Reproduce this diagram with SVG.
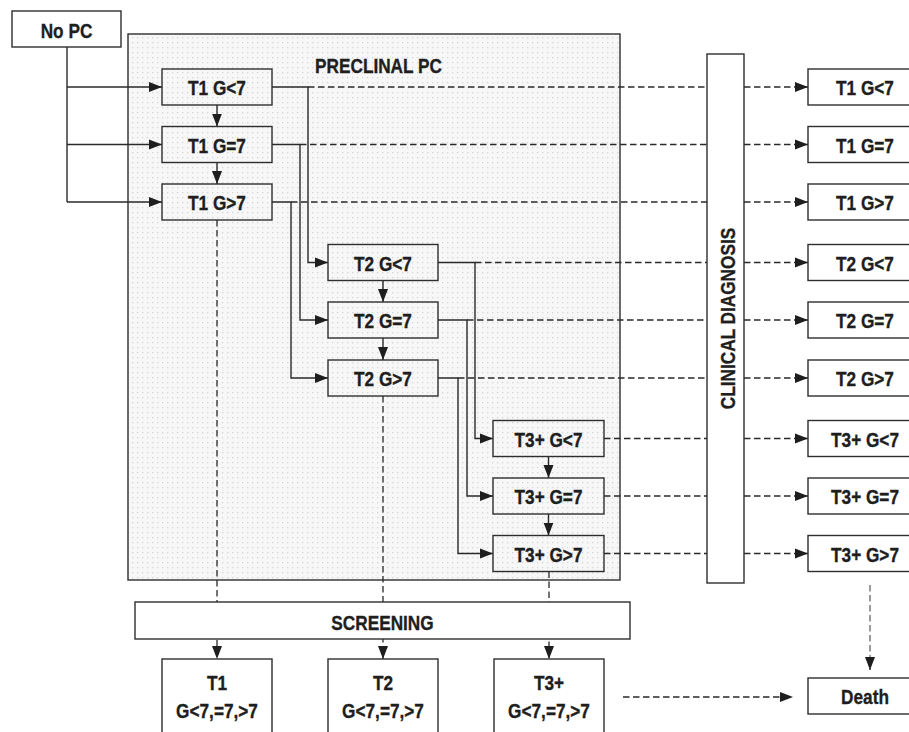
<svg xmlns="http://www.w3.org/2000/svg" width="909" height="732" viewBox="0 0 909 732">
<style>
text{font-family:"Liberation Sans",Arial,sans-serif;font-weight:bold;font-size:21px;fill:#1e1e1e;stroke:#1e1e1e;stroke-width:0.35;text-anchor:middle}
.box{fill:#fff;stroke:#2e2e2e;stroke-width:1.4}
.sbox{fill:none;stroke:#2e2e2e;stroke-width:1.4}
.ln{fill:none;stroke:#2a2a2a;stroke-width:1.4}
.ar{marker-end:url(#ah)}
.dash{fill:none;stroke:#2a2a2a;stroke-width:1.3;stroke-dasharray:6.5 3.5}
.gdash{fill:none;stroke:#666;stroke-width:1.3;stroke-dasharray:6.5 3.5}
</style>
<defs>
<pattern id="dots" width="5" height="5" patternUnits="userSpaceOnUse">
<rect width="5" height="5" fill="#f7f7f7"/>
<rect x="2" y="2" width="1.3" height="1.3" fill="#d6d6d6"/>
</pattern>
<marker id="ah" markerWidth="13" markerHeight="11" refX="13" refY="5.5" orient="auto" markerUnits="userSpaceOnUse">
<path d="M0,0.5 L13,5.5 L0,10.5 z" fill="#1e1e1e"/>
</marker>
</defs>

<g id="preclinical">
<rect x="128" y="34" width="492" height="546" fill="url(#dots)" stroke="#2e2e2e" stroke-width="1.4"/>
<text transform="translate(378.5,72.5) scale(0.82,1)">PRECLINAL PC</text>
</g>

<g id="connectors">
<path class="ln" d="M67,47 V202"/>
<path class="ln ar" d="M67,87 H162"/>
<path class="ln ar" d="M67,144.5 H162"/>
<path class="ln ar" d="M67,202 H162"/>
<path class="ln ar" d="M217,105 V126.5"/>
<path class="ln ar" d="M217,162.5 V184"/>
<path class="ln ar" d="M383,280.5 V302"/>
<path class="ln ar" d="M383,338 V360"/>
<path class="ln ar" d="M548.5,456.5 V478"/>
<path class="ln ar" d="M548.5,514 V535.5"/>
<path class="ln ar" d="M272,87 H308 V262.5 H328"/>
<path class="ln ar" d="M272,144.5 H300 V320 H328"/>
<path class="ln ar" d="M272,202 H291 V378 H328"/>
<path class="ln ar" d="M438,262.5 H475 V438.5 H493"/>
<path class="ln ar" d="M438,320 H467 V496 H493"/>
<path class="ln ar" d="M438,378 H458 V553.5 H493"/>
<path class="dash" d="M308,87 H707"/>
<path class="dash" d="M300,144.5 H707"/>
<path class="dash" d="M291,202 H707"/>
<path class="dash" d="M475,262.5 H707"/>
<path class="dash" d="M467,320 H707"/>
<path class="dash" d="M458,378 H707"/>
<path class="dash" d="M604,438.5 H707"/>
<path class="dash" d="M604,496 H707"/>
<path class="dash" d="M604,553.5 H707"/>
<path class="dash ar" d="M744,87 H808"/>
<path class="dash ar" d="M744,144.5 H808"/>
<path class="dash ar" d="M744,202 H808"/>
<path class="dash ar" d="M744,262.5 H808"/>
<path class="dash ar" d="M744,320 H808"/>
<path class="dash ar" d="M744,378 H808"/>
<path class="dash ar" d="M744,438.5 H808"/>
<path class="dash ar" d="M744,496 H808"/>
<path class="dash ar" d="M744,553.5 H808"/>
<path class="dash ar" d="M217,220 V659"/>
<path class="dash ar" d="M383,396 V659"/>
<path class="dash ar" d="M549,571.5 V659"/>
<path class="gdash" d="M870,585 V660"/>
<path class="dash ar" d="M870,658 V670"/>
<path class="dash ar" d="M623,697 H793"/>
</g>

<g id="nopc"><rect class="box" x="12" y="11" width="109" height="36"/><text transform="translate(66.5,37.5) scale(0.82,1)">No PC</text></g>

<g id="t1lt"><rect class="sbox" x="162" y="69" width="110" height="36"/><text transform="translate(217,95) scale(0.82,1)">T1 G&lt;7</text></g>
<g id="t1eq"><rect class="sbox" x="162" y="126.5" width="110" height="36"/><text transform="translate(217,152.5) scale(0.82,1)">T1 G=7</text></g>
<g id="t1gt"><rect class="sbox" x="162" y="184" width="110" height="36"/><text transform="translate(217,210) scale(0.82,1)">T1 G&gt;7</text></g>
<g id="t2lt"><rect class="sbox" x="328" y="244.5" width="110" height="36"/><text transform="translate(383,270.5) scale(0.82,1)">T2 G&lt;7</text></g>
<g id="t2eq"><rect class="sbox" x="328" y="302" width="110" height="36"/><text transform="translate(383,328) scale(0.82,1)">T2 G=7</text></g>
<g id="t2gt"><rect class="sbox" x="328" y="360" width="110" height="36"/><text transform="translate(383,386) scale(0.82,1)">T2 G&gt;7</text></g>
<g id="t3lt"><rect class="sbox" x="493" y="420.5" width="111" height="36"/><text transform="translate(548.5,446.5) scale(0.82,1)">T3+ G&lt;7</text></g>
<g id="t3eq"><rect class="sbox" x="493" y="478" width="111" height="36"/><text transform="translate(548.5,504) scale(0.82,1)">T3+ G=7</text></g>
<g id="t3gt"><rect class="sbox" x="493" y="535.5" width="111" height="36"/><text transform="translate(548.5,561.5) scale(0.82,1)">T3+ G&gt;7</text></g>

<g id="clinical"><rect class="box" x="707" y="54" width="37" height="529"/><text transform="translate(735,318.5) rotate(-90) scale(0.82,1)">CLINICAL DIAGNOSIS</text></g>

<g id="c-t1lt"><rect class="box" x="808" y="69" width="114" height="36"/><text transform="translate(865,95) scale(0.82,1)">T1 G&lt;7</text></g>
<g id="c-t1eq"><rect class="box" x="808" y="126.5" width="114" height="36"/><text transform="translate(865,152.5) scale(0.82,1)">T1 G=7</text></g>
<g id="c-t1gt"><rect class="box" x="808" y="184" width="114" height="36"/><text transform="translate(865,210) scale(0.82,1)">T1 G&gt;7</text></g>
<g id="c-t2lt"><rect class="box" x="808" y="244.5" width="114" height="36"/><text transform="translate(865,270.5) scale(0.82,1)">T2 G&lt;7</text></g>
<g id="c-t2eq"><rect class="box" x="808" y="302" width="114" height="36"/><text transform="translate(865,328) scale(0.82,1)">T2 G=7</text></g>
<g id="c-t2gt"><rect class="box" x="808" y="360" width="114" height="36"/><text transform="translate(865,386) scale(0.82,1)">T2 G&gt;7</text></g>
<g id="c-t3lt"><rect class="box" x="808" y="420.5" width="114" height="36"/><text transform="translate(865,446.5) scale(0.82,1)">T3+ G&lt;7</text></g>
<g id="c-t3eq"><rect class="box" x="808" y="478" width="114" height="36"/><text transform="translate(865,504) scale(0.82,1)">T3+ G=7</text></g>
<g id="c-t3gt"><rect class="box" x="808" y="535.5" width="114" height="36"/><text transform="translate(865,561.5) scale(0.82,1)">T3+ G&gt;7</text></g>

<g id="screening"><rect class="box" x="135" y="602" width="495" height="37"/><text transform="translate(382.5,630) scale(0.82,1)">SCREENING</text></g>

<g id="s-t1"><rect class="box" x="162" y="659" width="110" height="90"/><text transform="translate(217,689.5) scale(0.82,1)">T1</text><text transform="translate(217,718) scale(0.82,1)">G&lt;7,=7,&gt;7</text></g>
<g id="s-t2"><rect class="box" x="328" y="659" width="110" height="90"/><text transform="translate(383,689.5) scale(0.82,1)">T2</text><text transform="translate(383,718) scale(0.82,1)">G&lt;7,=7,&gt;7</text></g>
<g id="s-t3"><rect class="box" x="494" y="659" width="110" height="90"/><text transform="translate(549,689.5) scale(0.82,1)">T3+</text><text transform="translate(549,718) scale(0.82,1)">G&lt;7,=7,&gt;7</text></g>

<g id="death"><rect class="box" x="808" y="678" width="114" height="36"/><text transform="translate(865,704) scale(0.82,1)">Death</text></g>
</svg>
